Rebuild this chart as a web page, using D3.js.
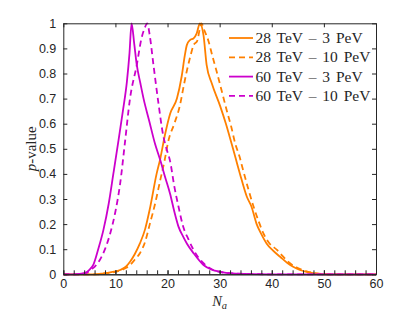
<!DOCTYPE html>
<html>
  <head>
    <script src="https://d3js.org/d3.v7.min.js"></script>
    <style>
      body { margin: 0; background-color: white; }
      .tick text { font-family: "Liberation Sans", Arial, sans-serif; font-size: 12.5px; fill: #262626; }
      .domain, .tick line { stroke: #262626; }
    </style>
  </head>
  <body>
    <svg id="canvas" width="415" height="321"></svg>
    <script>
      // 60 TeV - 3 PeV
      const nM3 = [0, 2, 3.5, 4.2, 5, 5.8, 6.7, 7.7, 8.7, 9.6, 10.6, 11.5, 12.2, 12.7, 13.1, 13.6, 14.1, 14.8, 15.4, 16.5, 17.6, 18.6, 19.5, 20.5, 21.3, 22.1, 23, 23.7, 25, 26.9, 28.5, 30.1, 33, 40, 60]
      const pM3 = [0, 0, 0.003, 0.006, 0.018, 0.04, 0.1, 0.177, 0.28, 0.4, 0.535, 0.66, 0.767, 0.88, 1, 0.92, 0.834, 0.76, 0.7, 0.61, 0.52, 0.455, 0.39, 0.32, 0.25, 0.19, 0.15, 0.123, 0.084, 0.037, 0.018, 0.01, 0.003, 0, 0]
      // 60 TeV - 10 PeV
      const nM10 = [0, 3, 4.5, 5.1, 6, 7, 8, 9, 10, 10.9, 11.8, 12.8, 14.1, 15, 15.6, 16.1, 16.6, 17.3, 18.2, 19.2, 19.8, 20.5, 21.3, 22.1, 23, 24, 25, 26.9, 28.5, 30, 33, 40, 60]
      const pM10 = [0, 0, 0.006, 0.017, 0.03, 0.057, 0.1, 0.163, 0.25, 0.36, 0.52, 0.7, 0.834, 0.94, 0.98, 1, 0.95, 0.834, 0.69, 0.55, 0.5, 0.45, 0.35, 0.27, 0.19, 0.14, 0.097, 0.044, 0.02, 0.01, 0.003, 0, 0]
      // 28 TeV - 3 PeV
      const nO3 = [0, 6, 7.7, 9, 10.9, 12, 12.8, 13.7, 14.7, 15.7, 16.6, 17.9, 18.6, 19.5, 20.5, 21.8, 22.7, 23.3, 23.7, 24.3, 25, 25.6, 26.2, 26.9, 27.5, 28.5, 30.1, 31.2, 32.3, 33.1, 33.9, 35.2, 36.1, 37.1, 38, 39, 40.2, 41.6, 43, 44.1, 45.4, 47, 48.5, 50, 60]
      const pO3 = [0, 0, 0.004, 0.008, 0.017, 0.03, 0.05, 0.08, 0.123, 0.18, 0.26, 0.4, 0.46, 0.555, 0.64, 0.7, 0.787, 0.87, 0.913, 0.933, 0.94, 0.96, 1, 0.953, 0.834, 0.76, 0.67, 0.6, 0.52, 0.46, 0.4, 0.31, 0.27, 0.2, 0.16, 0.123, 0.095, 0.07, 0.045, 0.03, 0.017, 0.008, 0.003, 0, 0]
      // 28 TeV - 10 PeV
      const nO10 = [0, 7, 9, 10.9, 12, 12.8, 13.7, 14.7, 15.7, 16.6, 17.6, 18.6, 19.4, 20.2, 21.3, 22.4, 23.1, 23.7, 24.4, 25, 25.7, 26.5, 27.1, 27.8, 28.6, 29.4, 30.4, 31.4, 32.2, 33, 33.8, 34.5, 35.5, 36.5, 37.5, 38.4, 39.5, 41, 42.2, 43.5, 45, 47, 49, 51, 60]
      const pO10 = [0, 0, 0.006, 0.015, 0.025, 0.037, 0.058, 0.084, 0.13, 0.2, 0.28, 0.375, 0.45, 0.535, 0.6, 0.675, 0.75, 0.81, 0.87, 0.913, 0.93, 1, 0.97, 0.933, 0.87, 0.81, 0.73, 0.65, 0.59, 0.52, 0.47, 0.415, 0.34, 0.27, 0.21, 0.163, 0.125, 0.097, 0.07, 0.044, 0.025, 0.01, 0.003, 0, 0]

      const legendLabels = ['28 TeV \u2013 3 PeV', '28 TeV \u2013 10 PeV', '60 TeV \u2013 3 PeV', '60 TeV \u2013 10 PeV']
      const xTicks = [0, 10, 20, 30, 40, 50, 60]
      const yTicks = [0, 0.1, 0.2, 0.3, 0.4, 0.5, 0.6, 0.7, 0.8, 0.9, 1]

      const orange = '#ff8000'
      const magenta = '#cc00cc'

      const series = [
        { n: nO3, p: pO3, color: orange, dash: null },
        { n: nO10, p: pO10, color: orange, dash: '6,4' },
        { n: nM3, p: pM3, color: magenta, dash: null },
        { n: nM10, p: pM10, color: magenta, dash: '6,4' }
      ]

      const margin = { top: 23.3, right: 39, bottom: 46.7, left: 63.3 }
      const svg = d3.select('#canvas')
      const width = +svg.attr('width') - margin.left - margin.right
      const height = +svg.attr('height') - margin.top - margin.bottom
      const g = svg.append('g').attr('transform', `translate(${margin.left}, ${margin.top})`)

      const x = d3.scaleLinear().domain([0, 60]).range([0, width])
      const y = d3.scaleLinear().domain([0, 1]).range([height, 0])

      // curves
      const line = d3.line()
        .x(d => x(d[0]))
        .y(d => y(d[1]))
        .curve(d3.curveMonotoneX)

      series.forEach(s => {
        g.append('path')
          .datum(s.n.map((v, i) => [v, s.p[i]]))
          .attr('d', line)
          .attr('fill', 'none')
          .attr('stroke', s.color)
          .attr('stroke-width', 1.8)
          .attr('stroke-dasharray', s.dash)
      })

      // axes, ticks pointing inward
      g.append('g')
        .attr('transform', `translate(0, ${height})`)
        .call(d3.axisBottom(x).tickValues(d3.range(0, 61, 2)).tickSizeInner(-4).tickSizeOuter(0).tickFormat(''))
      g.append('g')
        .attr('transform', `translate(0, ${height})`)
        .call(d3.axisBottom(x).tickValues(xTicks).tickSizeInner(-4).tickSizeOuter(0).tickPadding(5).tickFormat(d3.format('d')))
      g.append('g')
        .call(d3.axisLeft(y).tickValues(yTicks).tickSizeInner(-4).tickSizeOuter(0).tickPadding(7).tickFormat(d => d === 0 || d === 1 ? d : d3.format('.1f')(d)))
      g.append('g')
        .call(d3.axisTop(x).tickValues(xTicks).tickSizeInner(-4).tickSizeOuter(0).tickFormat(''))
      g.append('g')
        .attr('transform', `translate(${width}, 0)`)
        .call(d3.axisRight(y).tickValues(yTicks).tickSizeInner(-4).tickSizeOuter(0).tickFormat(''))

      // axis titles
      const yTitle = svg.append('text')
        .attr('transform', `translate(36, ${margin.top + height / 2}) rotate(-90)`)
        .attr('text-anchor', 'middle')
        .attr('font-family', '"Liberation Serif", serif')
        .attr('font-size', 15)
        .attr('fill', '#262626')
      yTitle.append('tspan').attr('font-style', 'italic').text('p')
      yTitle.append('tspan').text('-value')

      const xTitle = svg.append('text')
        .attr('x', margin.left + width / 2)
        .attr('y', 306)
        .attr('text-anchor', 'middle')
        .attr('font-family', '"Liberation Serif", serif')
        .attr('font-size', 14.5)
        .attr('font-style', 'italic')
        .attr('fill', '#262626')
      xTitle.append('tspan').text('N')
      xTitle.append('tspan').attr('font-size', 10.5).attr('dy', 3).text('a')

      // legend
      const legend = svg.append('g')
      series.forEach((s, i) => {
        const ly = 38 + i * 19.3
        legend.append('line')
          .attr('x1', 229).attr('x2', 253)
          .attr('y1', ly).attr('y2', ly)
          .attr('stroke', s.color)
          .attr('stroke-width', 1.8)
          .attr('stroke-dasharray', s.dash)
        legend.append('text')
          .attr('x', 255.5)
          .attr('y', ly + 5)
          .attr('font-family', '"Liberation Serif", serif')
          .attr('font-size', 15.5)
          .attr('word-spacing', 2)
          .attr('fill', '#262626')
          .text(legendLabels[i])
      })
    </script>
  </body>
</html>
